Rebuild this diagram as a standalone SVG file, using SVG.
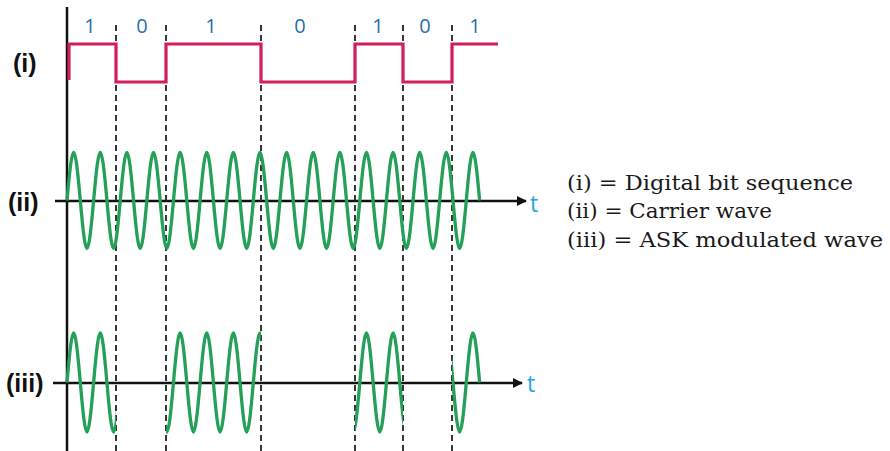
<svg xmlns="http://www.w3.org/2000/svg" width="890" height="451" viewBox="0 0 890 451">
<style>
.axis{stroke:#111;stroke-width:2.5;fill:none}
.dash{stroke:#222;stroke-width:1.8;stroke-dasharray:6 4;fill:none}
.wave{stroke:#24a058;stroke-width:3.3;fill:none}
.digital{stroke:#d21f56;stroke-width:3.2;fill:none}
.bit{font-family:"Open Sans","Liberation Sans",sans-serif;font-size:20px;fill:#2c6ea6;text-anchor:middle}
.lab{font-family:"Liberation Sans",Arial,sans-serif;font-weight:bold;font-size:25px;fill:#111}
.t{font-family:"Open Sans","Liberation Sans",sans-serif;font-size:23px;fill:#2aa4dc}
.leg{font-family:"DejaVu Serif","Liberation Serif",serif;font-size:21px;fill:#1a1a1a}
</style>
<defs>
<marker id="arr" viewBox="0 0 10 10" refX="9" refY="5" markerWidth="4" markerHeight="4" orient="auto" markerUnits="strokeWidth">
<path d="M0,0 L10,5 L0,10 Z" fill="#111"/>
</marker>
<path id="carrier" d="M67,0 c5.65,-64 7.66,-64 13.31,0 s7.66,64 13.31,0 s7.66,-64 13.31,0 s7.66,64 13.31,0 s7.66,-64 13.31,0 s7.66,64 13.31,0 s7.66,-64 13.31,0 s7.66,64 13.31,0 s7.66,-64 13.31,0 s7.66,64 13.31,0 s7.66,-64 13.31,0 s7.66,64 13.31,0 s7.66,-64 13.31,0 s7.66,64 13.31,0 s7.66,-64 13.31,0 s7.66,64 13.31,0 s7.66,-64 13.31,0 s7.66,64 13.31,0 s7.66,-64 13.31,0 s7.66,64 13.31,0 s7.66,-64 13.31,0 s7.66,64 13.31,0 s7.66,-64 13.31,0 s7.66,64 13.31,0 s7.66,-64 13.31,0 s7.66,64 13.31,0 s7.66,-64 13.31,0 s7.66,64 13.31,0 s7.66,-64 13.31,0 s7.66,64 13.31,0 s7.66,-64 13.31,0"/>
<clipPath id="askclip">
<rect x="60" y="320" width="56" height="125"/>
<rect x="166" y="320" width="95" height="125"/>
<rect x="355" y="320" width="48" height="125"/>
<rect x="452" y="320" width="40" height="125"/>
</clipPath>
</defs>

<g id="axes">
<line class="axis" x1="67" y1="7" x2="67" y2="451"/>
<line class="axis" x1="55" y1="201" x2="526" y2="201" marker-end="url(#arr)"/>
<line class="axis" x1="53" y1="383" x2="522" y2="383" marker-end="url(#arr)"/>
<text class="t" x="530" y="212">t</text>
<text class="t" x="527" y="392">t</text>
</g>

<g id="connectors">
<line class="dash" x1="116" y1="25" x2="116" y2="451"/>
<line class="dash" x1="166" y1="25" x2="166" y2="451"/>
<line class="dash" x1="261" y1="25" x2="261" y2="451"/>
<line class="dash" x1="355" y1="25" x2="355" y2="451"/>
<line class="dash" x1="403" y1="25" x2="403" y2="451"/>
<line class="dash" x1="452" y1="25" x2="452" y2="451"/>
</g>

<g id="digital">
<path class="digital" d="M69,80 V44 H116 V82 H166 V44 H261 V82 H355 V44 H403 V82 H452 V44 H498"/>
<text class="bit" x="90" y="33">1</text>
<text class="bit" x="142" y="33">0</text>
<text class="bit" x="211" y="33">1</text>
<text class="bit" x="300" y="33">0</text>
<text class="bit" x="378" y="33">1</text>
<text class="bit" x="425" y="33">0</text>
<text class="bit" x="475" y="33">1</text>
</g>

<g id="carrier-wave">
<use href="#carrier" class="wave" transform="translate(0,200.5)"/>
</g>

<g id="ask-wave" clip-path="url(#askclip)">
<use href="#carrier" class="wave" transform="translate(0,382.5) scale(1,1.03)"/>
</g>

<g id="labels">
<text class="lab" x="13" y="72">(i)</text>
<text class="lab" x="8" y="211">(ii)</text>
<text class="lab" x="6" y="392">(iii)</text>
</g>

<g id="legend">
<text class="leg" x="567" y="190" textLength="286" lengthAdjust="spacingAndGlyphs">(i) = Digital bit sequence</text>
<text class="leg" x="567" y="218" textLength="205" lengthAdjust="spacingAndGlyphs">(ii) = Carrier wave</text>
<text class="leg" x="567" y="247" textLength="316" lengthAdjust="spacingAndGlyphs">(iii) = ASK modulated wave</text>
</g>
</svg>
